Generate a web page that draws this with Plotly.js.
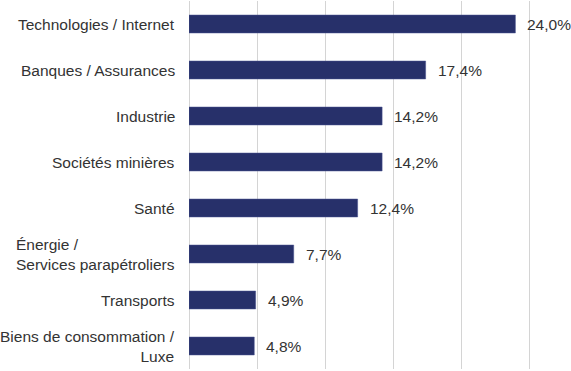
<!DOCTYPE html>
<html><head><meta charset="utf-8">
<script src="https://cdn.plot.ly/plotly-3.0.1.min.js"></script>
<style>html,body{margin:0;padding:0;background:#fff;}#chart{width:571px;height:371px;}</style>
</head><body><div id="chart"></div>
<script>
const categories = ["Technologies / Internet","Banques / Assurances","Industrie","Sociétés minières","Santé","Énergie /<br>Services parapétroliers","Transports","Biens de consommation /<br>Luxe"];
const values = [24.0,17.4,14.2,14.2,12.4,7.7,4.9,4.8];
const valueLabels = ["24,0%","17,4%","14,2%","14,2%","12,4%","7,7%","4,9%","4,8%"];
const labelAlign = ["right","right","right","right","right","left","right","right"];

const font = {family:"Liberation Sans, Arial, sans-serif", size:15.5, color:"#333333"};
const annotations = [];
categories.forEach((c,i)=>{
  annotations.push({xref:"paper", yref:"y", x:0, y:c, text:c, showarrow:false, xanchor:"right", align:labelAlign[i], xshift:-12, font:font});
  annotations.push({xref:"x", yref:"y", x:values[i], y:c, text:valueLabels[i], showarrow:false, xanchor:"left", xshift:10, font:font});
});

Plotly.newPlot("chart",[{
  type:"bar", orientation:"h", x:values, y:categories,
  marker:{color:"#27306a", line:{color:"#4a5490", width:0.5}},
  hoverinfo:"none"
}],{
  width:571, height:371,
  margin:{l:189, r:8, t:1, b:2},
  bargap:0.61,
  showlegend:false,
  paper_bgcolor:"#fff", plot_bgcolor:"#fff",
  xaxis:{range:[0,27.5], dtick:5, showticklabels:false, showgrid:true, gridcolor:"#d4d4d4", gridwidth:1, zeroline:true, zerolinecolor:"#d4d4d4", zerolinewidth:1, showline:false, fixedrange:true},
  yaxis:{autorange:"reversed", showticklabels:false, showgrid:false, zeroline:false, showline:false, ticks:"", fixedrange:true},
  annotations:annotations,
  font:font
},{staticPlot:true, displayModeBar:false});
</script></body></html>
